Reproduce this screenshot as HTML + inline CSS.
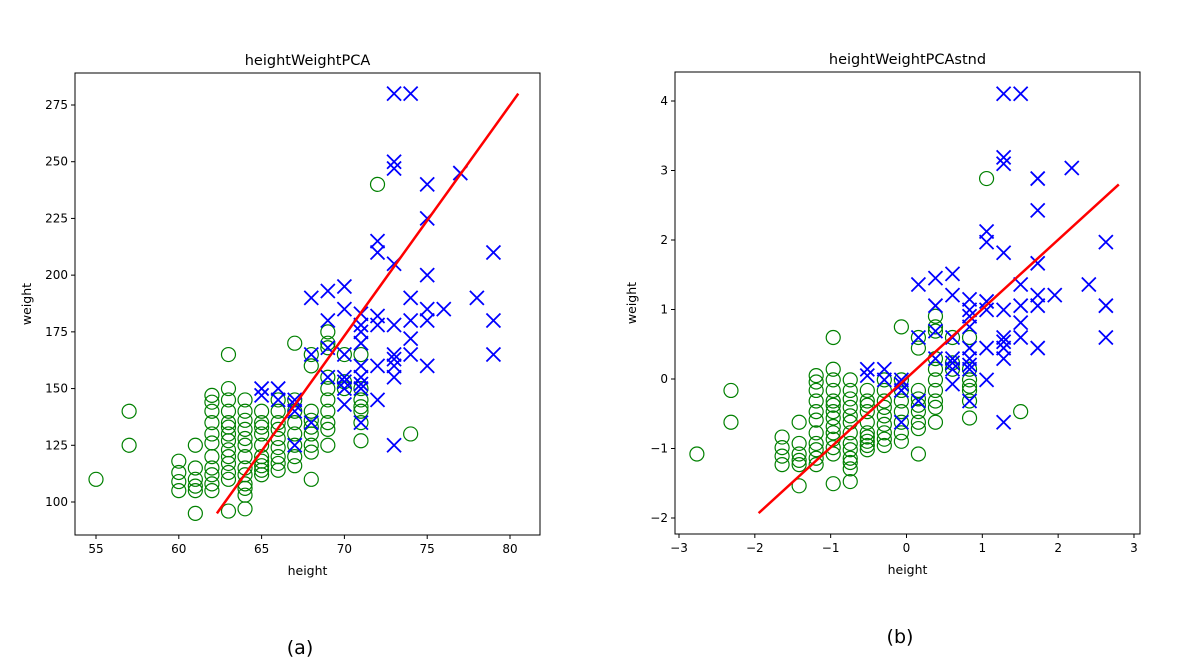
<!DOCTYPE html>
<html><head><meta charset="utf-8"><style>
body{margin:0;background:#fff;}
svg{display:block;font-family:"DejaVu Sans","Liberation Sans",sans-serif;}
</style></head><body>
<svg id="fig" width="1201" height="672" viewBox="0 0 1201 672">
<rect width="1201" height="672" fill="#fff"/>
</svg>
<script>
// ---- data: class 0 (green circles) heights / weights
const g0Heights=[55,57,57,60,60,60,60,61,61,61,61,61,61,
62,62,62,62,62,62,62,62,62,62,62,
63,63,63,63,63,63,63,63,63,63,63,63,63,63,
64,64,64,64,64,64,64,64,64,64,64,64,64,
65,65,65,65,65,65,65,65,65,65,
66,66,66,66,66,66,66,66,66,
67,67,67,67,67,67,67,67,
68,68,68,68,68,68,68,68,68,
69,69,69,69,69,69,69,69,69,69,
70,70,70,71,71,71,71,71,71,71,72,74];
const g0Weights=[110,125,140,105,109,113,118,95,105,107,110,115,125,
105,108,112,115,120,126,130,135,140,144,147,
96,110,113,117,120,123,127,130,133,135,140,145,150,165,
97,103,106,108,112,115,120,125,128,132,136,140,145,
112,114,116,118,120,125,130,133,135,140,
114,117,120,124,128,132,135,140,145,
116,120,125,130,135,140,145,170,
110,122,125,130,133,136,140,160,165,
125,132,135,140,145,150,155,168,170,175,
150,153,165,127,135,140,142,145,150,165,240,130];
// class 1 (blue crosses)
const g1Heights=[65,65,66,66,67,67,67,67,68,68,68,69,69,69,69,
70,70,70,70,70,70,70,71,71,71,71,71,71,71,71,71,
72,72,72,72,72,72,73,73,73,73,73,73,73,73,73,73,
74,74,74,74,74,75,75,75,75,75,75,76,77,78,79,79,79];
const g1Weights=[147,150,145,150,125,140,143,145,135,165,190,155,168,180,193,
143,150,153,155,165,185,195,135,150,152,155,160,170,175,178,183,
145,160,178,182,210,215,125,155,160,163,165,178,205,247,250,280,
165,172,180,190,280,160,180,185,200,225,240,185,245,190,165,180,210];
// regression line endpoints
const lineA_x=[62.3,80.5], lineA_y=[95,280];
const lineB_x=[-1.95,2.8], lineB_y=[-1.93,2.8];
// standardization constants
const hMean=67.3,hSd=4.45,wMean=145.4,wSd=32.8;
const ticksA_x=[55,60,65,70,75,80], ticksA_y=[100,125,150,175,200,225,250,275];
const ticksB_x=[-3,-2,-1,0,1,2,3], ticksB_y=[-2,-1,0,1,2,3,4];

const NS="http://www.w3.org/2000/svg";
const svg=document.getElementById('fig');
function el(t,a,p){const e=document.createElementNS(NS,t);for(const k in a)e.setAttribute(k,a[k]);(p||svg).appendChild(e);return e;}
function txt(s,a,p){const e=el('text',a,p);e.textContent=s;return e;}

function panel(cfg){
  const {L,T,R,B,x0,x1,y0,y1}=cfg;
  const grp=el('g',{});
  
  
  const X=v=>L+(v-x0)/(x1-x0)*(R-L);
  const Y=v=>B-(v-y0)/(y1-y0)*(B-T);
  const clip=el('clipPath',{id:'c'+cfg.name},grp);el('rect',{x:L,y:T,width:R-L,height:B-T},clip);
  const marks=el('g',{'clip-path':'url(#c'+cfg.name+')'},grp);
  cfg.gx.forEach((h,i)=>{
    const c=el('circle',{cx:X(h),cy:Y(cfg.gy[i]),r:7,fill:'none',stroke:'#008000','stroke-width':1.2},marks);
    
    
  });
  cfg.bx.forEach((h,i)=>{
    const cx=X(h),cy=Y(cfg.by[i]),s=7;
    const p=el('path',{d:`M${cx-s},${cy-s}L${cx+s},${cy+s}M${cx-s},${cy+s}L${cx+s},${cy-s}`,stroke:'#0000ff','stroke-width':1.8,fill:'none'},marks);
    
    
  });
  const ln=el('line',{x1:X(cfg.lx[0]),y1:Y(cfg.ly[0]),x2:X(cfg.lx[1]),y2:Y(cfg.ly[1]),stroke:'#ff0000','stroke-width':2.5},marks);
  
  
  const fr=el('rect',{x:L,y:T,width:R-L,height:B-T,fill:'none',stroke:'#000','stroke-width':1},grp);
  
  
  cfg.tx.forEach(v=>{const x=X(v);el('line',{x1:x,y1:B,x2:x,y2:B+4,stroke:'#000'},grp);
    const t=txt(String(v).replace('-','\u2212'),{x:x,y:B+18,'font-size':12,'text-anchor':'middle',fill:'#000'},grp);
    
    });
  cfg.ty.forEach(v=>{const y=Y(v);el('line',{x1:L-4,y1:y,x2:L,y2:y,stroke:'#000'},grp);
    const t=txt(String(v).replace('-','\u2212'),{x:L-7,y:y+4,'font-size':12,'text-anchor':'end',fill:'#000'},grp);
    
    });
  const ti=txt(cfg.title,{x:(L+R)/2,y:T-8,'font-size':14.5,'text-anchor':'middle'},grp);
  
  
  const xl=txt('height',{x:(L+R)/2,y:B+40,'font-size':12.5,'text-anchor':'middle'},grp);
  
  
  const yl=txt('weight',{x:0,y:0,'font-size':12.5,'text-anchor':'middle',transform:`translate(${cfg.ylx},${(T+B)/2}) rotate(-90)`},grp);
  
  
  const cap=txt(cfg.cap,{x:cfg.capx,y:cfg.capy,'font-size':19,'text-anchor':'middle',fill:'#000'},grp);
  
  
}
// panel a: pixel mapping 55->96, 80->510 ; 100->502, 275->105
panel({name:'panel-a',L:75,T:73,R:540,B:535,
  x0:55-(96-75)/16.56,x1:55+(540-96)/16.56,y0:100-(535-502)/2.2686,y1:100+(502-73)/2.2686,
  gx:g0Heights,gy:g0Weights,bx:g1Heights,by:g1Weights,lx:lineA_x,ly:lineA_y,tx:ticksA_x,ty:ticksA_y,
  title:'heightWeightPCA',ylx:31,cap:'(a)',capx:300,capy:654});
const zg0x=g0Heights.map(h=>(h-hMean)/hSd), zg0y=g0Weights.map(w=>(w-wMean)/wSd);
const zg1x=g1Heights.map(h=>(h-hMean)/hSd), zg1y=g1Weights.map(w=>(w-wMean)/wSd);
// panel b: -3->679, 3->1134 ; -2->518, 4->101
panel({name:'panel-b',L:675,T:72,R:1140,B:534,
  x0:-3-(679-675)/75.83,x1:-3+(1140-679)/75.83,y0:-2-(534-518)/69.5,y1:-2+(518-72)/69.5,
  gx:zg0x,gy:zg0y,bx:zg1x,by:zg1y,lx:lineB_x,ly:lineB_y,tx:ticksB_x,ty:ticksB_y,
  title:'heightWeightPCAstnd',ylx:636,cap:'(b)',capx:900,capy:643});
</script>
</body></html>
